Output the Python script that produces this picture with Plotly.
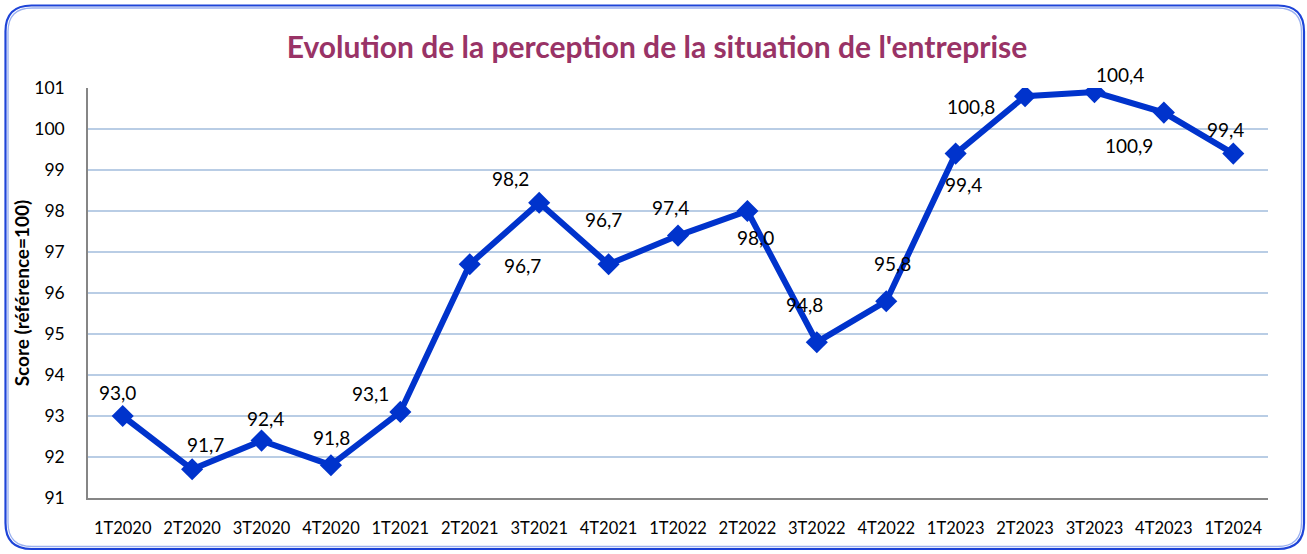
import plotly.graph_objects as go

categories = ["1T2020", "2T2020", "3T2020", "4T2020", "1T2021", "2T2021", "3T2021", "4T2021",
              "1T2022", "2T2022", "3T2022", "4T2022", "1T2023", "2T2023", "3T2023", "4T2023", "1T2024"]
scores = [93.0, 91.7, 92.4, 91.8, 93.1, 96.7, 98.2, 96.7,
          97.4, 98.0, 94.8, 95.8, 99.4, 100.8, 100.9, 100.4, 99.4]
y_ticks = [91, 92, 93, 94, 95, 96, 97, 98, 99, 100, 101]

# label pixel offsets (dx right, dy down) relative to each point
label_dx = [-5, 13, 4, 1, -30, 53, -29, -5, -8, 8, -12, 6, 8, -54, 35, -44, -8]
label_dy = [-24, -25, -22, -28, -18, 1, -24, -45, -28, 26, -38, -38, 31, 10, 53, -38, -24]

W, H = 1307, 554
LINE = "#0033CC"

fig = go.Figure()
fig.add_trace(go.Scatter(
    x=categories, y=scores, mode="lines+markers",
    line=dict(color=LINE, width=6),
    marker=dict(symbol="diamond", size=17, color=LINE),
    hoverinfo="skip", showlegend=False,
))

for c, v, dx, dy in zip(categories, scores, label_dx, label_dy):
    fig.add_annotation(
        x=c, y=v, xref="x", yref="y", text=f"{v:.1f}".replace(".", ","),
        showarrow=False, xshift=dx, yshift=-dy,
        font=dict(family="Lato", size=19, color="#000000"),
    )

# rounded border (double line)
def rounded(x0, y0, x1, y1, r):
    fx = lambda px: px / W
    fy = lambda py: 1 - py / H
    return (f"M {fx(x0 + r)},{fy(y0)} L {fx(x1 - r)},{fy(y0)} "
            f"Q {fx(x1)},{fy(y0)} {fx(x1)},{fy(y0 + r)} "
            f"L {fx(x1)},{fy(y1 - r)} Q {fx(x1)},{fy(y1)} {fx(x1 - r)},{fy(y1)} "
            f"L {fx(x0 + r)},{fy(y1)} Q {fx(x0)},{fy(y1)} {fx(x0)},{fy(y1 - r)} "
            f"L {fx(x0)},{fy(y0 + r)} Q {fx(x0)},{fy(y0)} {fx(x0 + r)},{fy(y0)} Z")

fig.add_shape(type="path", xref="paper", yref="paper", path=rounded(5.5, 5.5, 1304, 549, 26),
              line=dict(color="#1E44D8", width=2.2), layer="above")
fig.add_shape(type="path", xref="paper", yref="paper", path=rounded(8, 8, 1301.5, 546.5, 24),
              line=dict(color="#9AB0F0", width=1.3), layer="above")

fig.update_layout(
    width=W, height=H,
    template="none",
    paper_bgcolor="white", plot_bgcolor="white",
    margin=dict(l=0, r=0, t=0, b=0),
    title=dict(text="<b>Evolution de la perception de la situation de l'entreprise</b>",
               x=657 / W, xanchor="center", y=1 - 47 / H, yanchor="middle",
               font=dict(family="Lato", size=30, color="#993366")),
    xaxis=dict(type="category", domain=[88 / W, 1268 / W], range=[-0.5, 16.5],
               showgrid=False, showline=True, linecolor="#868686", linewidth=2,
               ticks="", ticklabelstandoff=14, automargin=False,
               tickfont=dict(family="Lato", size=16.5, color="#000000")),
    yaxis=dict(domain=[1 - 498 / H, 1 - 88 / H], range=[91, 101], tickvals=y_ticks,
               showgrid=True, gridcolor="#B9CDE5", gridwidth=1.5, zeroline=False,
               showline=True, linecolor="#868686", linewidth=1.5,
               ticks="", ticklabelstandoff=18, automargin=False,
               tickfont=dict(family="Lato", size=17.5, color="#000000"),
               title=dict(text="<b>Score (référence=100)</b>", standoff=0,
                          font=dict(family="Lato", size=19, color="#000000"))),
    font=dict(family="Lato"),
)

fig.write_html("out.html", config={"displayModeBar": False},
               post_script="document.body.style.margin='0';document.body.style.overflow='hidden';")
